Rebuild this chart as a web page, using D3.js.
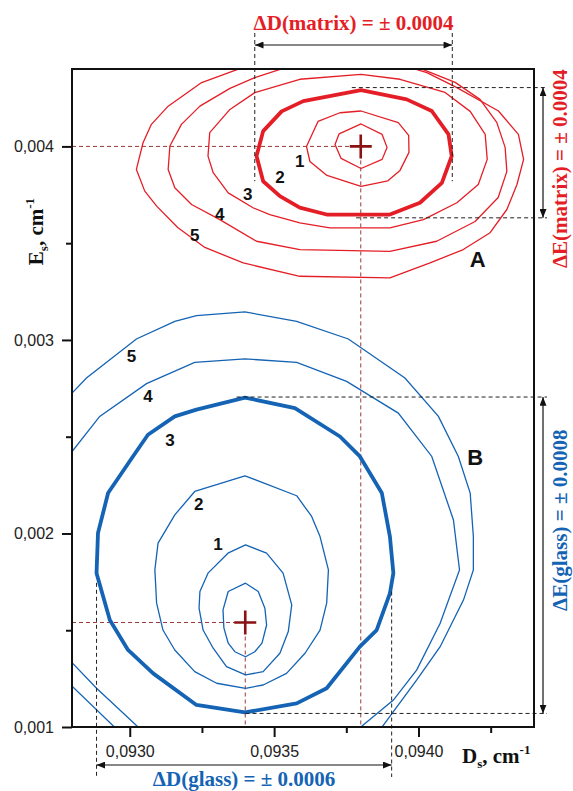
<!DOCTYPE html>
<html>
<head>
<meta charset="utf-8">
<script src="https://cdn.jsdelivr.net/npm/d3@7"></script>
<style>
  body { margin: 0; background: #fff; }
</style>
</head>
<body>
<div id="chart"></div>
<script>
// ---- axis ticks ----
const xTicks = [0.0930, 0.0935, 0.0940];
const xMinor = [0.09325, 0.09375, 0.09425];
const yTicks = [0.001, 0.002, 0.003, 0.004];
const yMinor = [0.0015, 0.0025, 0.0035];

// ---- centres ----
const matrixCenter = [0.0938, 0.0040];
const glassCenter = [0.0934, 0.00154];

// ---- matrix (A) contours, [D, E] ----
const matrix0 = [[0.093801,0.004116],[0.093874,0.004062],[0.093891,0.003995],[0.093874,0.003933],[0.093801,0.003886],[0.093732,0.003938],[0.093711,0.004010],[0.093725,0.004065]];
const matrix1 = [[0.093801,0.004183],[0.093930,0.004123],[0.093966,0.004057],[0.093967,0.003969],[0.093936,0.003876],[0.093894,0.003822],[0.093801,0.003793],[0.093683,0.003850],[0.093624,0.003922],[0.093612,0.004000],[0.093652,0.004129],[0.093728,0.004174]];
const matrix2 = [[0.093801,0.004291],[0.093959,0.004243],[0.094046,0.004183],[0.094104,0.004062],[0.094115,0.003950],[0.094081,0.003812],[0.094005,0.003709],[0.093901,0.003648],[0.093682,0.003648],[0.093589,0.003684],[0.093520,0.003743],[0.093462,0.003820],[0.093439,0.003950],[0.093462,0.004079],[0.093526,0.004181],[0.093601,0.004234]];
const matrix3 = [[0.093801,0.004372],[0.093936,0.004347],[0.094092,0.004279],[0.094179,0.004181],[0.094231,0.004062],[0.094238,0.003933],[0.094207,0.003803],[0.094133,0.003709],[0.094017,0.003622],[0.093901,0.003579],[0.093693,0.003579],[0.093589,0.003605],[0.093485,0.003648],[0.093427,0.003683],[0.093341,0.003760],[0.093289,0.003864],[0.093271,0.003950],[0.093277,0.004071],[0.093347,0.004191],[0.093433,0.004278],[0.093589,0.004347]];
const matrix4 = [[0.093728,0.004450],[0.093531,0.004403],[0.093433,0.004355],[0.093347,0.004300],[0.093243,0.004208],[0.093179,0.004114],[0.093139,0.004002],[0.093133,0.003881],[0.093156,0.003786],[0.093214,0.003700],[0.093312,0.003622],[0.093439,0.003510],[0.093589,0.003467],[0.093901,0.003458],[0.094063,0.003510],[0.094196,0.003612],[0.094276,0.003736],[0.094306,0.003871],[0.094300,0.003995],[0.094271,0.004124],[0.094213,0.004243],[0.094127,0.004331],[0.094023,0.004393],[0.093936,0.004440]];
const matrix5 = [[0.093589,0.004476],[0.093381,0.004402],[0.093249,0.004330],[0.093133,0.004208],[0.093075,0.004114],[0.093046,0.004019],[0.093023,0.003881],[0.093052,0.003769],[0.093094,0.003690],[0.093166,0.003581],[0.093260,0.003478],[0.093393,0.003398],[0.093589,0.003329],[0.093901,0.003321],[0.094040,0.003398],[0.094155,0.003467],[0.094248,0.003554],[0.094306,0.003674],[0.094341,0.003803],[0.094364,0.003933],[0.094346,0.004062],[0.094277,0.004183],[0.094133,0.004304],[0.094029,0.004381],[0.093901,0.004440]];

// ---- glass (B) contours, [D, E] ----
const glass0 = [[0.093401,0.001743],[0.093445,0.001700],[0.093468,0.001614],[0.093474,0.001527],[0.093458,0.001433],[0.093433,0.001389],[0.093401,0.001363],[0.093364,0.001389],[0.093341,0.001433],[0.093326,0.001512],[0.093323,0.001605],[0.093341,0.001700]];
const glass1 = [[0.093401,0.001941],[0.093474,0.001898],[0.093531,0.001795],[0.093561,0.001631],[0.093549,0.001493],[0.093520,0.001381],[0.093462,0.001286],[0.093401,0.001269],[0.093335,0.001312],[0.093289,0.001407],[0.093254,0.001501],[0.093240,0.001614],[0.093243,0.001700],[0.093271,0.001795],[0.093340,0.001898]];
const glass2 = [[0.093399,0.002298],[0.093578,0.002195],[0.093630,0.002088],[0.093659,0.001984],[0.093688,0.001812],[0.093682,0.001640],[0.093659,0.001501],[0.093607,0.001381],[0.093543,0.001277],[0.093462,0.001217],[0.093401,0.001200],[0.093301,0.001226],[0.093225,0.001286],[0.093156,0.001398],[0.093115,0.001501],[0.093093,0.001640],[0.093087,0.001812],[0.093098,0.001950],[0.093156,0.002096],[0.093225,0.002217]];
const glass3 = [[0.093399,0.002702],[0.093572,0.002648],[0.093728,0.002501],[0.093797,0.002398],[0.093873,0.002209],[0.093901,0.001984],[0.093913,0.001795],[0.093901,0.001691],[0.093855,0.001501],[0.093797,0.001415],[0.093682,0.001200],[0.093578,0.001122],[0.093399,0.001075],[0.093231,0.001114],[0.093081,0.001277],[0.092994,0.001398],[0.092931,0.001553],[0.092885,0.001795],[0.092890,0.002002],[0.092925,0.002209],[0.093011,0.002398],[0.093063,0.002510],[0.093156,0.002605],[0.093231,0.002640]];
const glass4a = [[0.092778,0.002381],[0.092896,0.002605],[0.093058,0.002774],[0.093225,0.002884],[0.093399,0.002902],[0.093578,0.002884],[0.093751,0.002786],[0.093930,0.002622],[0.094046,0.002398],[0.094121,0.002070],[0.094142,0.001812],[0.094075,0.001536],[0.093994,0.001295],[0.093913,0.001139],[0.093766,0.000958]];
const glass4b = [[0.092778,0.001367],[0.092885,0.001200],[0.093059,0.000958]];
const glass5a = [[0.092778,0.002691],[0.092850,0.002803],[0.093023,0.003005],[0.093156,0.003096],[0.093231,0.003126],[0.093399,0.003145],[0.093578,0.003096],[0.093757,0.003005],[0.093953,0.002803],[0.094069,0.002605],[0.094138,0.002398],[0.094179,0.002209],[0.094190,0.001984],[0.094190,0.001812],[0.094156,0.001657],[0.094075,0.001415],[0.093994,0.001243],[0.093853,0.000958]];
const glass5b = [[0.092778,0.001243],[0.092976,0.000958]];

// ---- contour level labels ----
const levelNames = ["1", "2", "3", "4", "5"];
const matrixLabelPos = [[0.093589,0.003922],[0.093520,0.003840],[0.093409,0.003752],[0.093312,0.003648],[0.093225,0.003540]];
const glassLabelPos = [[0.093306,0.001941],[0.093239,0.002148],[0.093139,0.002479],[0.093063,0.002708],[0.093006,0.002912]];
const groupNames = ["A", "B"];
const groupLabelPos = [[0.094205,0.003415],[0.094196,0.002390]];

// ---- uncertainty annotations ----
const matrixDRange = [0.093433, 0.094117];
const matrixERange = [0.003631, 0.004304];
const matrixDLineBottom = 0.00382;
const matrixELineStart = [0.093784, 0.093769];
const glassDRange = [0.092885, 0.093907];
const glassERange = [0.00107, 0.002705];
const glassDLineTop = [0.001745, 0.0017];
const glassELineStart = [0.093401, 0.09337];
const annotationText = {
  matrixD: "\u0394D(matrix) = \u00B1 0.0004",
  matrixE: "\u0394E(matrix) = \u00B1 0.0004",
  glassD: "\u0394D(glass) = \u00B1 0.0006",
  glassE: "\u0394E(glass) = \u00B1 0.0008"
};

// ---- layout / style ----
const W = 573, H = 791;
const margin = { top: 69, right: 39, bottom: 64, left: 72 };
const width = W - margin.left - margin.right;
const height = H - margin.top - margin.bottom;
const RED = "#e41e26", BLUE = "#1463b4", BROWN = "#9a3b3b", CROSS = "#8b1212";
const SERIF = "'Liberation Serif','Times New Roman',serif";
const SANS = "'Liberation Sans',Arial,sans-serif";

const svg = d3.select("#chart").append("svg")
    .attr("width", W)
    .attr("height", H)
    .style("background", "#fff");

const defs = svg.append("defs");
defs.append("clipPath").attr("id", "plot-clip")
    .append("rect").attr("width", width).attr("height", height);
defs.append("marker")
    .attr("id", "arrow")
    .attr("viewBox", "0 0 10 8")
    .attr("refX", 10).attr("refY", 4)
    .attr("markerWidth", 9).attr("markerHeight", 7)
    .attr("markerUnits", "userSpaceOnUse")
    .attr("orient", "auto-start-reverse")
    .append("path").attr("d", "M0,0 L10,4 L0,8 Z").attr("fill", "#111");

const g = svg.append("g").attr("transform", `translate(${margin.left},${margin.top})`);

// Scales
const x = d3.scaleLinear().domain([0.0928, 0.0944]).range([0, width]);
const y = d3.scaleLinear().domain([0.001, 0.0044]).range([height, 0]);

const openLine = d3.line().x(d => x(d[0])).y(d => y(d[1]));
const closedLine = d3.line().x(d => x(d[0])).y(d => y(d[1])).curve(d3.curveLinearClosed);

const plot = g.append("g").attr("clip-path", "url(#plot-clip)");

// Brown dashed centre lines
[matrixCenter, glassCenter].forEach(c => {
    plot.append("line")
        .attr("x1", 0).attr("x2", x(c[0]))
        .attr("y1", y(c[1])).attr("y2", y(c[1]))
        .attr("stroke", BROWN).attr("stroke-width", 1).attr("stroke-dasharray", "4 3");
    plot.append("line")
        .attr("x1", x(c[0])).attr("x2", x(c[0]))
        .attr("y1", y(c[1])).attr("y2", height)
        .attr("stroke", BROWN).attr("stroke-width", 1).attr("stroke-dasharray", "4 3");
});

// Contours
const matrixClosed = [matrix0, matrix1, matrix2, matrix3, matrix4, matrix5];
const glassClosed = [glass0, glass1, glass2, glass3];
const glassOpen = [glass4a, glass4b, glass5a, glass5b];

matrixClosed.forEach((pts, i) => {
    plot.append("path").datum(pts)
        .attr("d", closedLine)
        .attr("fill", "none")
        .attr("stroke", RED)
        .attr("stroke-width", i === 2 ? 3.8 : 1.3)
        .attr("stroke-linejoin", "round");
});
glassClosed.forEach((pts, i) => {
    plot.append("path").datum(pts)
        .attr("d", closedLine)
        .attr("fill", "none")
        .attr("stroke", BLUE)
        .attr("stroke-width", i === 3 ? 3.8 : 1.3)
        .attr("stroke-linejoin", "round");
});
glassOpen.forEach(pts => {
    plot.append("path").datum(pts)
        .attr("d", openLine)
        .attr("fill", "none")
        .attr("stroke", BLUE)
        .attr("stroke-width", 1.3);
});

// Black dashed annotation guides
const guide = (x1, y1, x2, y2) => g.append("line")
    .attr("x1", x1).attr("y1", y1).attr("x2", x2).attr("y2", y2)
    .attr("stroke", "#222").attr("stroke-width", 1).attr("stroke-dasharray", "4 3");
const arrow = (x1, y1, x2, y2) => g.append("line")
    .attr("x1", x1).attr("y1", y1).attr("x2", x2).attr("y2", y2)
    .attr("stroke", "#111").attr("stroke-width", 1.2)
    .attr("marker-start", "url(#arrow)").attr("marker-end", "url(#arrow)");

const topRow = -36, arrowTop = -24, rightEnd = width + 13, arrowRight = width + 9;

// matrix
matrixDRange.forEach(d => guide(x(d), topRow, x(d), y(matrixDLineBottom)));
arrow(x(matrixDRange[0]), arrowTop, x(matrixDRange[1]), arrowTop);
matrixERange.forEach((e, i) => guide(x(matrixELineStart[i]), y(e), rightEnd, y(e)));
arrow(arrowRight, y(matrixERange[1]), arrowRight, y(matrixERange[0]));

// glass
glassDRange.forEach((d, i) => guide(x(d), y(glassDLineTop[i]), x(d), height + 50));
arrow(x(glassDRange[0]), height + 38, x(glassDRange[1]), height + 38);
glassERange.forEach((e, i) => guide(x(glassELineStart[i]), y(e), rightEnd, y(e)));
arrow(arrowRight, y(glassERange[1]), arrowRight, y(glassERange[0]));

// Crosses at centres
[matrixCenter, glassCenter].forEach(c => {
    const cx = x(c[0]), cy = y(c[1]);
    g.append("path")
        .attr("d", `M${cx - 11},${cy}H${cx + 11}M${cx},${cy - 12}V${cy + 12}`)
        .attr("stroke", CROSS).attr("stroke-width", 2.6);
});

// Level labels
const labelLayer = g.append("g")
    .attr("font-family", SANS).attr("font-weight", "bold")
    .attr("text-anchor", "middle").attr("dominant-baseline", "central");
[matrixLabelPos, glassLabelPos].forEach(pos => {
    pos.forEach((p, i) => {
        labelLayer.append("text")
            .attr("x", x(p[0])).attr("y", y(p[1]))
            .attr("font-size", 17).attr("fill", "#111")
            .text(levelNames[i]);
    });
});
groupLabelPos.forEach((p, i) => {
    labelLayer.append("text")
        .attr("x", x(p[0])).attr("y", y(p[1]))
        .attr("font-size", 22).attr("fill", "#111")
        .text(groupNames[i]);
});

// Frame
g.append("rect")
    .attr("width", width).attr("height", height)
    .attr("fill", "none").attr("stroke", "#111").attr("stroke-width", 2);

// Axes
const commaFmt = f => d => d3.format(f)(d).replace(".", ",");
const gx = g.append("g").attr("transform", `translate(0,${height})`)
    .call(d3.axisBottom(x).tickValues(xTicks).tickSize(10).tickPadding(9).tickFormat(commaFmt(".4f")));
const gxm = g.append("g").attr("transform", `translate(0,${height})`)
    .call(d3.axisBottom(x).tickValues(xMinor).tickSize(6).tickFormat(""));
const gy = g.append("g")
    .call(d3.axisLeft(y).tickValues(yTicks).tickSize(10).tickPadding(8).tickFormat(commaFmt(".3f")));
const gym = g.append("g")
    .call(d3.axisLeft(y).tickValues(yMinor).tickSize(6).tickFormat(""));
[gx, gxm, gy, gym].forEach(a => {
    a.select(".domain").remove();
    a.selectAll("line").attr("stroke", "#111").attr("stroke-width", 2);
    a.selectAll("text").attr("font-family", SANS).attr("font-size", 16).attr("fill", "#222");
});

// Axis titles
const xt = g.append("text")
    .attr("x", 390).attr("y", height + 36)
    .attr("font-family", SERIF).attr("font-weight", "bold").attr("font-size", 21).attr("fill", "#111");
xt.append("tspan").text("D");
xt.append("tspan").attr("font-size", 13).attr("dy", 5).text("s");
xt.append("tspan").attr("dy", -5).text(", cm");
xt.append("tspan").attr("font-size", 13).attr("dy", -9).text("-1");

const yt = g.append("text")
    .attr("transform", `translate(-29,${y(0.00356)}) rotate(-90)`)
    .attr("text-anchor", "middle")
    .attr("font-family", SERIF).attr("font-weight", "bold").attr("font-size", 21).attr("fill", "#111");
yt.append("tspan").text("E");
yt.append("tspan").attr("font-size", 13).attr("dy", 5).text("s");
yt.append("tspan").attr("dy", -5).text(", cm");
yt.append("tspan").attr("font-size", 13).attr("dy", -9).text("-1");

// Annotation texts
g.append("text")
    .attr("x", d3.mean(matrixDRange, x)).attr("y", -39)
    .attr("text-anchor", "middle")
    .attr("font-family", SERIF).attr("font-weight", "bold").attr("font-size", 21)
    .attr("fill", RED).text(annotationText.matrixD);
g.append("text")
    .attr("x", d3.mean(glassDRange, x)).attr("y", height + 59)
    .attr("text-anchor", "middle")
    .attr("font-family", SERIF).attr("font-weight", "bold").attr("font-size", 21)
    .attr("fill", BLUE).text(annotationText.glassD);
g.append("text")
    .attr("transform", `translate(${width + 33},${d3.mean(matrixERange, y) + 16}) rotate(-90)`)
    .attr("text-anchor", "middle")
    .attr("font-family", SERIF).attr("font-weight", "bold").attr("font-size", 21)
    .attr("fill", RED).text(annotationText.matrixE);
g.append("text")
    .attr("transform", `translate(${width + 33},${d3.mean(glassERange, y) - 35}) rotate(-90)`)
    .attr("text-anchor", "middle")
    .attr("font-family", SERIF).attr("font-weight", "bold").attr("font-size", 21)
    .attr("fill", BLUE).text(annotationText.glassE);
</script>
</body>
</html>
